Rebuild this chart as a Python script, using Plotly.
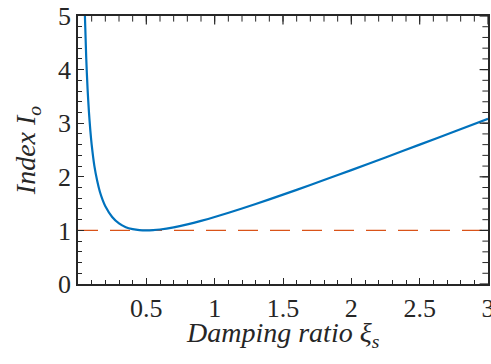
import plotly.graph_objects as go

# Damping ratio values and index values
xi = [0.05, 0.06, 0.07, 0.08, 0.09, 0.10, 0.12, 0.14, 0.16, 0.18, 0.20, 0.25,
      0.30, 0.35, 0.40, 0.45, 0.50, 0.55, 0.60, 0.70, 0.80, 0.90, 1.00, 1.20,
      1.40, 1.60, 1.80, 2.00, 2.25, 2.50, 2.75, 3.00]
index_io = [5.05, 4.23, 3.64, 3.21, 2.87, 2.60, 2.20, 1.93, 1.72, 1.57, 1.45, 1.25,
            1.13, 1.06, 1.025, 1.006, 1.00, 1.005, 1.017, 1.057, 1.113, 1.178, 1.25, 1.408,
            1.579, 1.756, 1.939, 2.125, 2.361, 2.60, 2.841, 3.083]
ref_x = [0.0, 3.0]
ref_y = [1.0, 1.0]
x_ticks = [0.5, 1, 1.5, 2, 2.5, 3]
y_ticks = [0, 1, 2, 3, 4, 5]
x_minor_ticks = [round(0.1 * i, 1) for i in range(1, 30)]
y_minor_ticks = [round(0.2 * i, 1) for i in range(1, 25)]

FONT = "Liberation Serif"
AX = "#262626"
X_MAX, Y_MAX = 3, 5

fig = go.Figure()
fig.add_trace(go.Scatter(x=ref_x, y=ref_y, mode="lines",
                         line=dict(color="#D95319", width=1.2, dash="20px,12px"),
                         showlegend=False, hoverinfo="skip"))
fig.add_trace(go.Scatter(x=xi, y=index_io, mode="lines",
                         line=dict(color="#0072BD", width=2.2, shape="spline", smoothing=0.6),
                         showlegend=False))

# mirrored tick marks on the top and right edges
def edge_ticks(xs, ys, symbol, size, width):
    fig.add_trace(go.Scatter(x=xs, y=ys, mode="markers", cliponaxis=True,
                             marker=dict(symbol=symbol, size=size, color=AX,
                                         line=dict(color=AX, width=width)),
                             showlegend=False, hoverinfo="skip"))

edge_ticks(x_minor_ticks, [Y_MAX] * len(x_minor_ticks), "line-ns", 8, 1)
edge_ticks(x_ticks, [Y_MAX] * len(x_ticks), "line-ns", 12, 1.2)
edge_ticks([X_MAX] * len(y_minor_ticks), y_minor_ticks, "line-ew", 8, 1)
edge_ticks([X_MAX] * len(y_ticks), y_ticks, "line-ew", 12, 1.2)

common = dict(showgrid=False, zeroline=False, showline=True, linecolor=AX, linewidth=1.5,
              ticks="inside", ticklen=6, tickwidth=1.2, tickcolor=AX, automargin=False,
              mirror=True, tickfont=dict(family=FONT, size=26, color=AX))
xminor = dict(dtick=0.1, tick0=0, ticks="inside", ticklen=4, tickcolor=AX, tickwidth=1)
yminor = dict(dtick=0.2, tick0=0, ticks="inside", ticklen=4, tickcolor=AX, tickwidth=1)

fig.update_layout(
    width=491, height=364, margin=dict(l=78, r=3, t=16, b=80),
    plot_bgcolor="white", paper_bgcolor="white",
    xaxis=dict(range=[0, X_MAX], tickvals=x_ticks, ticktext=[str(v) for v in x_ticks],
               minor=xminor, ticklabeloverflow="allow", **common),
    yaxis=dict(range=[0, Y_MAX], tickvals=y_ticks, minor=yminor,
               title=dict(text="<i>Index I<sub>o</sub></i>",
                          font=dict(family=FONT, size=28, color=AX), standoff=14),
               **common),
    annotations=[dict(text="<i>Damping ratio ξ<sub>s</sub></i>", xref="paper", yref="paper",
                      x=0.5, y=0, xanchor="center", yanchor="middle", yshift=-50,
                      showarrow=False, font=dict(family=FONT, size=28, color=AX))],
)
fig.write_html("out.html")
